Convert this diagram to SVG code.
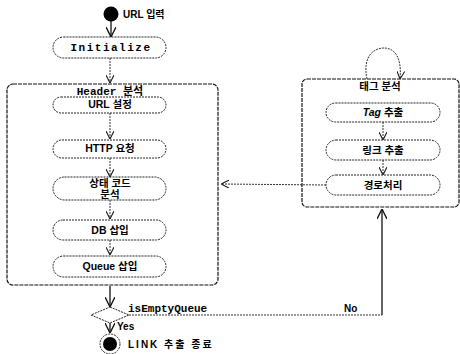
<svg xmlns="http://www.w3.org/2000/svg" width="460" height="354" viewBox="0 0 460 354">
<defs>
<style>
.pill{fill:#fff;stroke:#222;stroke-width:1;stroke-dasharray:2 1}
.box{fill:none;stroke:#111;stroke-width:1.2;stroke-dasharray:4 1}
.ln{fill:none;stroke:#333;stroke-width:1;stroke-dasharray:2 1}
.sl{fill:none;stroke:#111;stroke-width:1.3}
.t{font-family:"Liberation Sans","Noto Sans CJK KR",sans-serif;font-size:10.5px;font-weight:bold;fill:#000;text-anchor:middle}
.m{font-family:"Liberation Mono","Noto Sans CJK KR",monospace;font-size:11px;font-weight:bold;fill:#000}
.l{font-family:"Liberation Sans","Noto Sans CJK KR",sans-serif;font-size:10px;font-weight:bold;fill:#000}
</style>
<marker id="a" viewBox="0 0 10 10" refX="10" refY="5" markerWidth="8" markerHeight="8" orient="auto-start-reverse">
<path d="M0,0 L10,5 L0,10" fill="none" stroke="#111" stroke-width="1.3"/>
</marker>
</defs>
<g id="connectors">
<line class="sl" x1="111" y1="21" x2="111" y2="37" marker-end="url(#a)"/>
<line class="ln" x1="110" y1="58" x2="110" y2="83" marker-end="url(#a)"/>
<line class="ln" x1="110" y1="113" x2="110" y2="139" marker-end="url(#a)"/>
<line class="ln" x1="110" y1="158" x2="110" y2="177" marker-end="url(#a)"/>
<line class="ln" x1="110" y1="200" x2="110" y2="219" marker-end="url(#a)"/>
<line class="ln" x1="110" y1="240" x2="110" y2="255" marker-end="url(#a)"/>
<line class="sl" x1="110" y1="286" x2="110" y2="307" marker-end="url(#a)"/>
<line class="sl" x1="110" y1="323" x2="110" y2="333" marker-end="url(#a)"/>
<polyline class="ln" points="129,315 382,315"/>
<line class="sl" x1="382" y1="315" x2="382" y2="209" marker-end="url(#a)"/>
<line class="ln" x1="326" y1="185" x2="221" y2="184" marker-end="url(#a)"/>
<line class="ln" x1="383" y1="122" x2="383" y2="140" marker-end="url(#a)"/>
<line class="ln" x1="383" y1="160" x2="383" y2="175" marker-end="url(#a)"/>
<path class="ln" d="M367,79 C362,55 375,48 384,48 C395,48 402,58 400,79" marker-end="url(#a)"/>
</g>
<g id="start">
<circle cx="111" cy="14" r="7.5" fill="#000"/>
<text class="l" x="123" y="18">URL 입력</text>
</g>
<g id="initialize">
<rect class="pill" x="53" y="37" width="113" height="21" rx="10.5"/>
<text class="m" x="111" y="51" text-anchor="middle" letter-spacing="1.5">Initialize</text>
</g>
<g id="header">
<rect class="box" x="7" y="84" width="211" height="201" rx="6"/>
<text class="m" x="110" y="95" text-anchor="middle">Header 분석</text>
</g>
<g id="url-set">
<rect class="pill" x="53" y="97" width="113" height="16" rx="8"/>
<text class="t" x="110" y="108">URL 설정</text>
</g>
<g id="http">
<rect class="pill" x="53" y="140" width="113" height="18" rx="9"/>
<text class="t" x="110" y="152">HTTP 요청</text>
</g>
<g id="status">
<rect class="pill" x="53" y="177" width="113" height="23" rx="11.5"/>
<text class="t" x="110" y="187">상태 코드</text>
<text class="t" x="110" y="198">분석</text>
</g>
<g id="db">
<rect class="pill" x="53" y="220" width="113" height="20" rx="10"/>
<text class="t" x="110" y="234">DB 삽입</text>
</g>
<g id="queue">
<rect class="pill" x="53" y="256" width="113" height="21" rx="10.5"/>
<text class="t" x="110" y="270">Queue 삽입</text>
</g>
<g id="decision">
<polygon points="110,307 129,315 110,323 91,315" fill="#fff" stroke="#222" stroke-dasharray="2 1"/>
<text class="m" x="128" y="312">isEmptyQueue</text>
<text class="l" x="117" y="330">Yes</text>
<text class="l" x="344" y="312">No</text>
</g>
<g id="end">
<circle cx="110" cy="344" r="10" fill="none" stroke="#222" stroke-dasharray="2 1"/>
<circle cx="110" cy="344" r="7" fill="#000"/>
<text class="l" x="128" y="348" letter-spacing="2">LINK 추출 종료</text>
</g>
<g id="tag-box">
<rect class="box" x="302" y="79" width="157" height="128" rx="5"/>
<text class="t" x="380" y="90">태그 분석</text>
</g>
<g id="tag">
<rect class="pill" x="326" y="103" width="114" height="19" rx="9.5"/>
<text class="t" x="383" y="116"><tspan font-style="italic">Tag</tspan> 추출</text>
</g>
<g id="link">
<rect class="pill" x="326" y="140" width="114" height="20" rx="10"/>
<text class="t" x="383" y="154">링크 추출</text>
</g>
<g id="path">
<rect class="pill" x="326" y="175" width="114" height="20" rx="10"/>
<text class="t" x="383" y="189">경로처리</text>
</g>
</svg>
